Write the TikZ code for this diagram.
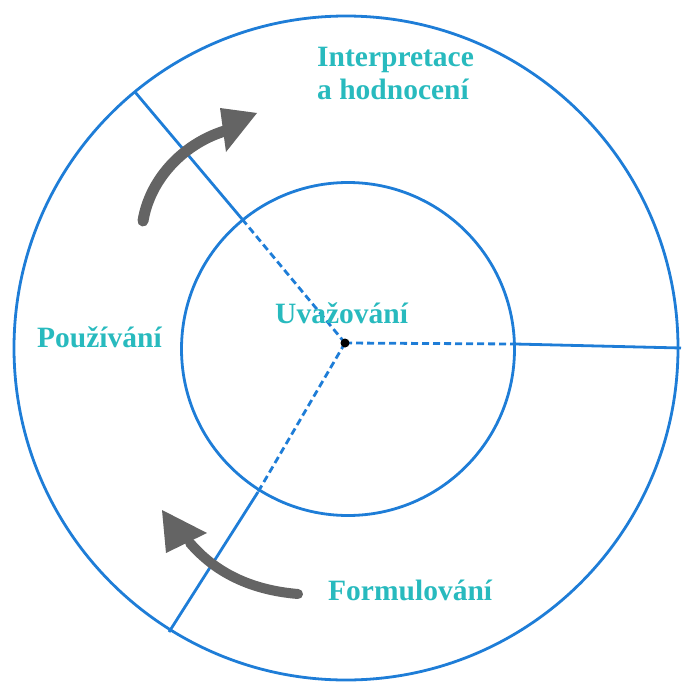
\documentclass[tikz,border=0pt]{standalone}
\usepackage{fontspec}
\setmainfont{Liberation Serif}
\definecolor{ringblue}{RGB}{30,125,215}
\definecolor{labelteal}{RGB}{40,186,190}
\definecolor{arrowgray}{RGB}{100,100,100}
\begin{document}
\begin{tikzpicture}[x=1pt,y=-1pt,
  ring/.style={circle,draw=ringblue,line width=2.8pt,inner sep=0pt,outer sep=0pt},
  spoke/.style={draw=ringblue,line width=2.8pt},
  spokedash/.style={draw=ringblue,line width=2.8pt,dash pattern=on 7pt off 4pt},
  lbl/.style={text=labelteal,font=\fontsize{29.5}{33}\selectfont\bfseries,inner sep=0pt,anchor=base west,align=left},
  shaft/.style={draw=arrowgray,line width=12pt,line cap=round},
  head/.style={fill=arrowgray}
]
\useasboundingbox (0,0) rectangle (681,682);
\node[ring,minimum size=664pt] (outer) at (346,348) {};
\node[ring,minimum size=333pt] (inner) at (348,349) {};
\coordinate (c) at (345,343);
% spoke points
\coordinate (p1) at (242,219);
\coordinate (q1) at (135,92);
\coordinate (p2) at (515,344);
\coordinate (q2) at (681,348);
\coordinate (p3) at (258,492);
\coordinate (q3) at (169,632);
\draw[spokedash] (c) -- (p1);
\draw[spoke] (p1) -- (q1);
\draw[spokedash] (c) -- (p2);
\draw[spoke] (p2) -- (q2);
\draw[spokedash] (c) -- (p3);
\draw[spoke] (p3) -- (q3);
\fill[black] (c) circle[radius=4.5];
% upper arrow
\coordinate (a1s) at (143,221);
\coordinate (a1e) at (228,130);
\coordinate (a1t) at (257,113);
\draw[shaft,line width=11pt] (a1s) .. controls (150,178) and (185,142) .. (a1e);
\fill[head] (a1t) -- (220,108) -- (226,152) -- cycle;
% lower arrow
\coordinate (a2s) at (298,594);
\coordinate (a2e) at (190,543);
\coordinate (a2t) at (162,510);
\draw[shaft,line width=10pt] (a2s) .. controls (250,590) and (215,572) .. (a2e);
\fill[head] (a2t) -- (207,533) -- (166,553) -- cycle;
% labels
\node[lbl] (interp) at (317,100) {Interpretace\\a hodnocení};
\node[lbl] (uvaz) at (275,323) {Uvažování};
\node[lbl] (pouz) at (37,347) {Používání};
\node[lbl] (form) at (328,600) {Formulování};
\end{tikzpicture}
\end{document}
